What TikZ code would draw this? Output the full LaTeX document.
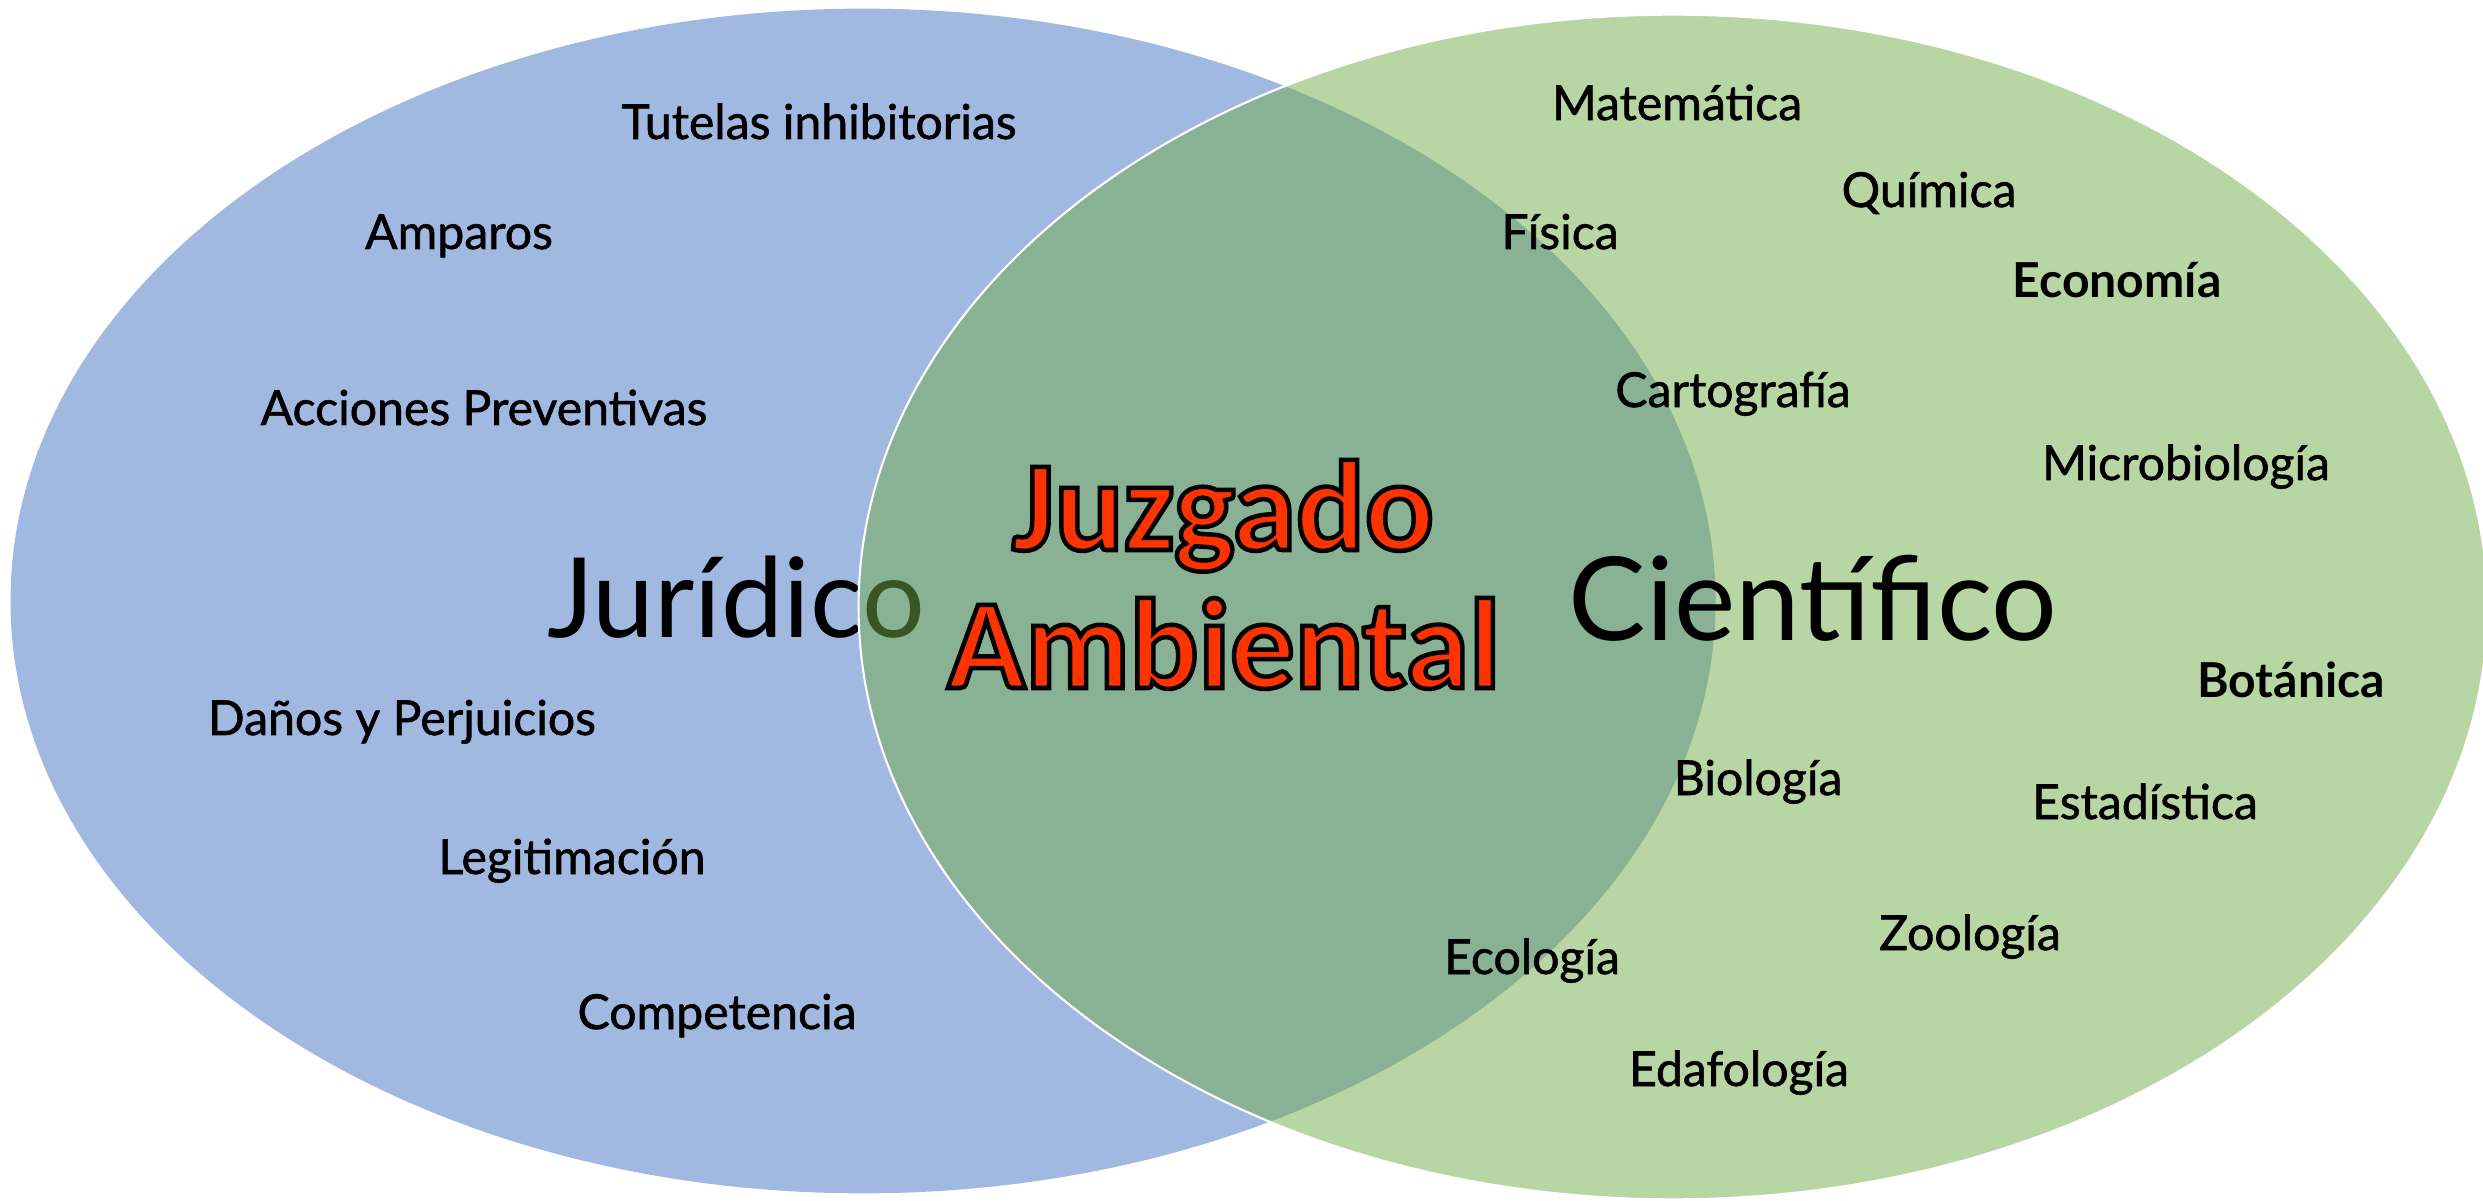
\documentclass[tikz,border=0pt]{standalone}
\usepackage{fontspec}
\setmainfont{Lato}
\newfontfamily\lblfont[FakeBold=1.2]{Lato}
\newfontfamily\lblboldfont{Lato Bold}
\newfontfamily\bigfont{Lato}
\newfontfamily\jfont[FakeBold=3.5]{Carlito Bold}
\newcommand\redoutline[1]{\special{pdf:bcolor [1 0.2 0] [0 0 0]}#1\special{pdf:ecolor}}
\definecolor{bluefill}{HTML}{A1B8E0}
\definecolor{greenfill}{HTML}{70AD47}
\tikzset{
  lbl/.style={anchor=base, inner sep=0pt, font=\lblfont\fontsize{13.7}{16}\selectfont},
  lblb/.style={anchor=base, inner sep=0pt, font=\lblboldfont\fontsize{13.7}{16}\selectfont},
  bigl/.style={anchor=base, inner sep=0pt, font=\bigfont\fontsize{31.5}{36}\selectfont},
  bigr/.style={anchor=base, inner sep=0pt, font=\bigfont\fontsize{33}{38}\selectfont},
  jtxt/.style={anchor=base, inner sep=0pt, font=\jfont\fontsize{36.5}{40}\selectfont}
}
\begin{document}
\begin{tikzpicture}[x=0.01cm, y=-0.01cm]
\useasboundingbox (0,0) rectangle (2483,1201);
% left ellipse
\fill[bluefill] (863,601) ellipse [x radius=8.52cm, y radius=5.92cm];
\node[bigl] (jur) at (736,638) {Jurídico};
% right ellipse, semi-transparent
\filldraw[fill=greenfill, fill opacity=0.5, draw=white, line width=0.6pt] (1673,607) ellipse [x radius=8.14cm, y radius=5.92cm];
\node[bigr] (cien) at (1813,641) {Científico};
% central title
\node[jtxt] (juz) at (1223,550) {\redoutline{Juzgado}};
\node[jtxt] (amb) at (1224,688) {\redoutline{Ambiental}};
% legal labels
\node[lbl] (tut) at (819,139) {Tutelas inhibitorias};
\node[lbl] (amp) at (459,249) {Amparos};
\node[lbl] (acc) at (484,425) {Acciones Preventivas};
\node[lbl] (dan) at (402,735) {Daños y Perjuicios};
\node[lbl] (leg) at (572,874) {Legitimación};
\node[lbl] (com) at (717,1029) {Competencia};
% scientific labels
\node[lbl] (mat) at (1677,120) {Matemática};
\node[lbl] (qui) at (1929,207) {Química};
\node[lbl] (fis) at (1560,249) {Física};
\node[lblb] (eco) at (2117,298) {Economía};
\node[lbl] (car) at (1733,407) {Cartografía};
\node[lbl] (mic) at (2186,480) {Microbiología};
\node[lblb] (bot) at (2291,698) {Botánica};
\node[lbl] (bio) at (1758,795) {Biología};
\node[lbl] (est) at (2145,819) {Estadística};
\node[lbl] (zoo) at (1970,950) {Zoología};
\node[lbl] (ecl) at (1532,974) {Ecología};
\node[lbl] (eda) at (1739,1086) {Edafología};
\end{tikzpicture}
\end{document}
